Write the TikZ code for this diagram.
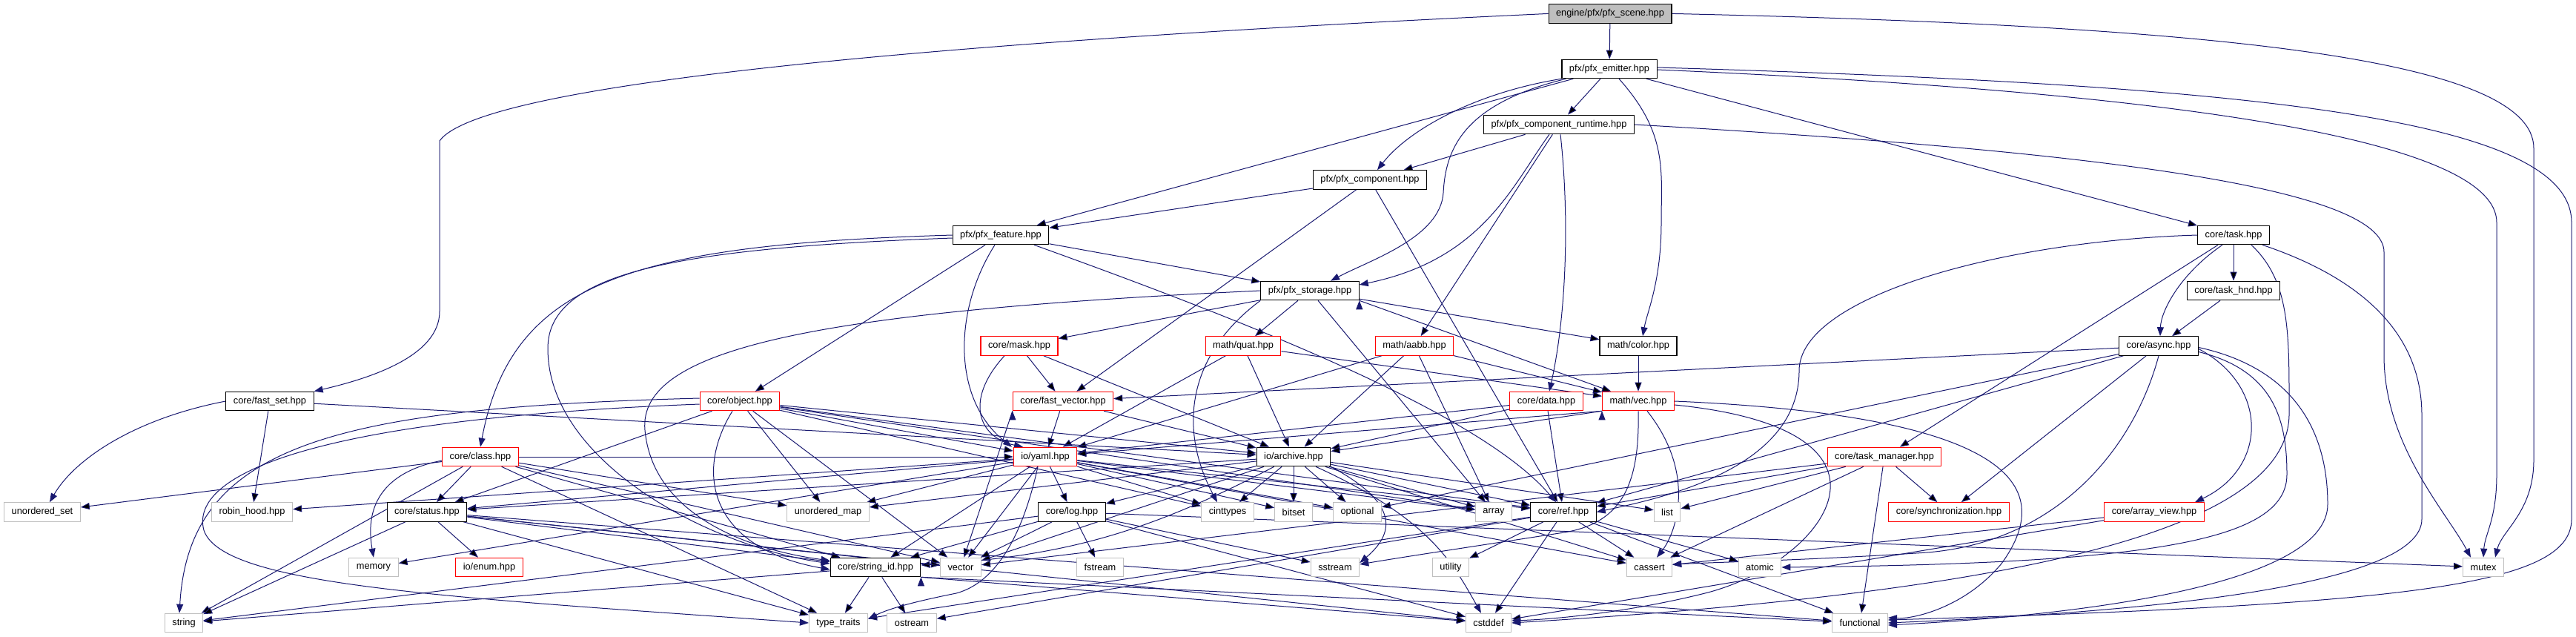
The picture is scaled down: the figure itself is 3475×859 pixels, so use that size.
\documentclass[tikz,border=0pt]{standalone}
\usepackage{fontspec}
\setmainfont{Liberation Sans}
\usetikzlibrary{arrows.meta, backgrounds}
\definecolor{incblue}{HTML}{191970}
\definecolor{sysgray}{HTML}{BFBFBF}
\tikzset{
  hdr/.style    ={draw=black, fill=white, line width=1.1pt, minimum height=25.5pt,
                  inner xsep=10pt, inner ysep=0pt, font=\fontsize{12.8}{14}\selectfont},
  hdrred/.style ={hdr, draw=red},
  sys/.style    ={hdr, draw=sysgray},
  root/.style   ={hdr, fill=sysgray},
  inc/.style    ={draw=incblue, line width=1pt, -{Triangle[length=12pt,width=9pt]}},
}
\begin{document}
\begin{tikzpicture}[x=1pt, y=-1pt]
  \useasboundingbox (0,0) rectangle (3475,859);
  % project headers
  \node[root]   (scene)   at (2172,18.4)  {engine/pfx/pfx\_scene.hpp};
  \node[hdr]    (emitter) at (2171,93)    {pfx/pfx\_emitter.hpp};
  \node[hdr]    (runtime) at (2103,168)   {pfx/pfx\_component\_runtime.hpp};
  \node[hdr]    (comp)    at (1848,242.5) {pfx/pfx\_component.hpp};
  \node[hdr]    (feature) at (1350,317)   {pfx/pfx\_feature.hpp};
  \node[hdr]    (task)    at (3013,317)   {core/task.hpp};
  \node[hdr]    (storage) at (1767,392)   {pfx/pfx\_storage.hpp};
  \node[hdr]    (taskhnd) at (3013,392)   {core/task\_hnd.hpp};
  \node[hdrred] (mask)    at (1375,466.5) {core/mask.hpp};
  \node[hdrred] (quat)    at (1677,466.5) {math/quat.hpp};
  \node[hdrred] (aabb)    at (1908,466.5) {math/aabb.hpp};
  \node[hdr]    (color)   at (2210,466.5) {math/color.hpp};
  \node[hdr]    (async)   at (2912,466.5) {core/async.hpp};
  \node[hdr]    (fastset) at (364,541)    {core/fast\_set.hpp};
  \node[hdrred] (object)  at (998,541)    {core/object.hpp};
  \node[hdrred] (fastvec) at (1434,541)   {core/fast\_vector.hpp};
  \node[hdrred] (data)    at (2086,541)   {core/data.hpp};
  \node[hdrred] (vec)     at (2210,541)   {math/vec.hpp};
  \node[hdrred] (class)   at (648,616)    {core/class.hpp};
  \node[hdrred] (yaml)    at (1410,616)   {io/yaml.hpp};
  \node[hdr]    (archive) at (1745,616)   {io/archive.hpp};
  \node[hdrred] (taskmgr) at (2542,616)   {core/task\_manager.hpp};
  \node[hdr]    (status)  at (576,690.5)  {core/status.hpp};
  \node[hdr]    (log)     at (1446,690.5) {core/log.hpp};
  \node[hdr]    (ref)     at (2109,690.5) {core/ref.hpp};
  \node[hdrred] (sync)    at (2629,690.5) {core/synchronization.hpp};
  \node[hdrred] (arrview) at (2906,690.5) {core/array\_view.hpp};
  \node[hdrred] (enum)    at (660,765)    {io/enum.hpp};
  \node[hdr]    (strid)   at (1181,765)   {core/string\_id.hpp};
  % system headers
  \node[sys] (uset)       at (57,690.5)   {unordered\_set};
  \node[sys] (robin)      at (340,690.5)  {robin\_hood.hpp};
  \node[sys] (umap)       at (1117,690.5) {unordered\_map};
  \node[sys] (cinttypes)  at (1656,690.5) {cinttypes};
  \node[sys] (bitset)     at (1745,690.5) {bitset};
  \node[sys] (optional)   at (1831,690.5) {optional};
  \node[sys] (array)      at (2015,690.5) {array};
  \node[sys] (list)       at (2249,690.5) {list};
  \node[sys] (memory)     at (504,765)    {memory};
  \node[sys] (vector)     at (1296,765)   {vector};
  \node[sys] (fstream)    at (1484,765)   {fstream};
  \node[sys] (sstream)    at (1801,765)   {sstream};
  \node[sys] (utility)    at (1957,765)   {utility};
  \node[sys] (cassert)    at (2225,765)   {cassert};
  \node[sys] (atomic)     at (2374,765)   {atomic};
  \node[sys] (mutex)      at (3350,765)   {mutex};
  \node[sys] (string)     at (248,840)    {string};
  \node[sys] (ttraits)    at (1131,840)   {type\_traits};
  \node[sys] (ostream)    at (1230,840)   {ostream};
  \node[sys] (cstddef)    at (2008,840)   {cstddef};
  \node[sys] (functional) at (2509,840)   {functional};

  \begin{scope}[on background layer]
    \fill[white] (0,0) rectangle (3475,859);
    % straight includes
    \path[inc] (scene) edge (emitter);
    \path[inc] (emitter) edge (runtime) edge (feature) edge (task);
    \path[inc] (runtime) edge (comp) edge (aabb);
    \path[inc] (comp) edge (feature) edge (fastvec) edge (ref);
    \path[inc] (feature) edge (storage) edge (object);
    \path[inc] (task) edge (taskhnd) edge (taskmgr);
    \path[inc] (taskhnd) edge (async);
    \path[inc] (storage) edge (mask) edge (quat) edge (color) edge (array)
               (storage.south east) edge (vec);
    \path[inc] (mask) edge (fastvec) edge (archive);
    \path[inc] (quat) edge (vec) edge (yaml) edge (archive);
    \path[inc] (aabb) edge (vec) edge (archive) edge (array) edge (yaml);
    \path[inc] (color) edge (vec);
    \path[inc] (async) edge (fastvec) edge (optional) edge (ref) edge (sync);
    \path[inc] (fastset) edge (robin) edge (archive);
    \path[inc] (object) edge (umap) edge (status) edge (vector) edge (yaml)
               edge (archive) edge (ref) edge (cinttypes) edge (array);
    \path[inc] (fastvec) edge (yaml) edge (archive) (fastvec.south west) edge (vector);
    \path[inc] (data) edge (yaml) edge (archive) edge (ref);
    \path[inc] (vec.south west) edge (yaml) edge (archive);
    \path[inc] (class) edge (status) edge (uset) edge (umap) edge (strid)
               edge (string) edge (vector) edge (ttraits) edge (yaml);
    \path[inc] (yaml) edge (log) edge (strid) edge (vector) edge (status)
               edge (umap) edge (robin) edge (cinttypes) edge (bitset)
               edge (optional) edge (array) edge (ref) edge (cassert) edge (memory);
    \path[inc] (archive) edge (cinttypes) edge (bitset) edge (optional) edge (array)
               edge (ref) edge (status) edge (umap) edge (log) edge (vector)
               edge (cassert) edge (list) edge[bend left=12] (strid);
    \path[inc] (taskmgr) edge (sync) edge (functional) edge (list) edge (ref)
               edge (vector) edge (cassert);
    \path[inc] (arrview) edge (cassert) edge (cstddef);
    \path[inc] (status) edge (enum) edge (string) edge (strid) edge (ttraits)
               edge (vector) edge (cstddef) edge (functional);
    \path[inc] (log) edge (vector) edge (fstream) edge (sstream) edge (string)
               edge (cstddef) edge (strid) edge (mutex);
    \path[inc] (strid) edge (ttraits) edge (ostream) edge (string)
               (strid.south east) edge (functional) edge (cstddef);
    \path[inc] (ref) edge (cassert) edge (utility) edge (atomic) edge (ttraits)
               edge (functional) edge (cstddef) edge (ostream);
    % routed includes
    \draw[inc] (scene.west) .. controls (1300,55) and (650,110) .. (593,190)
               -- (593,420) .. controls (593,480) and (500,510) .. (fastset.north east);
    \draw[inc] (scene.east) .. controls (3000,35) and (3418,80) .. (3418,200)
               -- (3418,620) .. controls (3418,690) and (3375,715) .. ([xshift=16pt]mutex.north);
    \draw[inc] ([yshift=2pt]emitter.east) .. controls (3050,115) and (3469,160) .. (3469,300)
               -- (3469,700) .. controls (3469,790) and (3250,815) .. ([yshift=4pt]functional.east);
    \draw[inc] ([yshift=-1pt]emitter.east) .. controls (2950,125) and (3368,190) .. (3368,300)
               -- (3368,640) .. controls (3368,700) and (3352,720) .. (mutex.north);
    \draw[inc] (runtime.east) .. controls (2850,205) and (3216,255) .. (3216,340)
               -- (3216,480) .. controls (3216,600) and (3300,690) .. ([xshift=-17pt]mutex.north);
    \draw[inc] (emitter.south west) .. controls (1990,125) and (1900,175) .. ([xshift=10pt]comp.north);
    \draw[inc] ([xshift=6pt]emitter.south west) .. controls (1975,140) and (1950,200) .. (1947,260)
               .. controls (1943,320) and (1850,350) .. ([xshift=28pt]storage.north);
    \draw[inc] ([xshift=13pt]emitter.south) .. controls (2250,180) and (2241,230) .. (2241,300)
               .. controls (2241,380) and (2222,420) .. ([xshift=6pt]color.north);
    \draw[inc] ([xshift=-13pt]runtime.south) .. controls (2040,250) and (2000,350) .. ([yshift=8pt]storage.east);
    \draw[inc] ([xshift=2pt]runtime.south) .. controls (2118,300) and (2112,430) .. ([xshift=4pt]data.north);
    \draw[inc] (feature.west) .. controls (850,330) and (690,380) .. (class.north);
    \draw[inc] ([yshift=-4pt]feature.west) .. controls (900,335) and (739,370) .. (739,470)
               .. controls (739,620) and (950,735) .. ([yshift=5pt]strid.west);
    \draw[inc] ([xshift=-8pt]feature.south) .. controls (1285,420) and (1285,540) .. ([xshift=-45pt]yaml.north);
    \draw[inc] ([xshift=45pt]feature.south) .. controls (1700,440) and (2000,560) .. ([xshift=-10pt]ref.north);
    \draw[inc] (storage.west) .. controls (1100,420) and (860,470) .. (870,580)
               .. controls (880,690) and (1000,740) .. ([yshift=9pt]strid.west);
    \draw[inc] (storage.south west) .. controls (1600,480) and (1590,580) .. ([xshift=-14pt]cinttypes.north);
    \draw[inc] ([xshift=-20pt]mask.south) .. controls (1300,540) and (1320,590) .. ([xshift=-30pt]yaml.north);
    \draw[inc] ([xshift=-15pt]task.south) .. controls (2940,370) and (2915,420) .. ([xshift=2pt]async.north);
    \draw[inc] (task.west) .. controls (2700,325) and (2427,400) .. (2427,500)
               .. controls (2427,630) and (2250,670) .. (ref.east);
    \draw[inc] ([xshift=-10pt]task.south east) .. controls (3200,380) and (3267,460) .. (3267,560)
               -- (3267,700) .. controls (3267,790) and (2900,825) .. (functional.east);
    \draw[inc] ([xshift=24pt]task.south) .. controls (3090,380) and (3088,450) .. (3088,560)
               .. controls (3085,720) and (2700,800) .. (cstddef.east);
    \draw[inc] ([yshift=-4pt]async.east) .. controls (3060,520) and (3060,630) .. ([xshift=55pt]arrview.north);
    \draw[inc] ([yshift=-8pt]async.east) .. controls (3070,500) and (3085,570) .. (3085,640)
               .. controls (3085,730) and (2900,760) .. (atomic.east);
    \draw[inc] ([yshift=-2pt]async.east) .. controls (3110,500) and (3140,600) .. (3140,680)
               .. controls (3140,790) and (2800,830) .. ([yshift=-3pt]functional.east);
    \draw[inc] (async.south) .. controls (2880,600) and (2780,730) .. (2600,745)
               .. controls (2450,755) and (2320,758) .. ([yshift=4pt]cassert.east);
    \draw[inc] (vec.south) .. controls (2212,650) and (2190,705) .. (2110,718)
               .. controls (2000,735) and (1900,750) .. ([yshift=4pt]sstream.east);
    \draw[inc] ([xshift=12pt]vec.south) .. controls (2290,640) and (2260,720) .. ([xshift=10pt]cassert.north);
    \draw[inc] (vec.east) .. controls (2700,560) and (2780,650) .. (2700,760)
               .. controls (2650,820) and (2580,835) .. ([yshift=7pt]functional.east);
    \draw[inc] ([yshift=-5pt]vec.east) .. controls (2600,580) and (2460,760) .. (2300,800)
               .. controls (2200,825) and (2100,835) .. ([yshift=3pt]cstddef.east);
    \draw[inc] ([yshift=-4pt]object.west) .. controls (420,565) and (255,640) .. (275,715)
               .. controls (300,790) and (600,805) .. (ttraits.west);
    \draw[inc] ([yshift=4pt]object.west) .. controls (450,550) and (255,600) .. ([xshift=-6pt]string.north);
    \draw[inc] ([xshift=-10pt]object.south) .. controls (935,640) and (960,740) .. ([yshift=-3pt]strid.west);
    \draw[inc] ([yshift=-5pt]class.west) .. controls (500,640) and (495,700) .. (memory.north);
    \draw[inc] (fastset.west) .. controls (180,565) and (100,620) .. ([xshift=10pt]uset.north);
    \draw[inc] ([xshift=-10pt]yaml.south) .. controls (1380,720) and (1345,785) .. (1290,800)
               .. controls (1240,810) and (1200,820) .. ([yshift=5pt]ttraits.east);
    \draw[inc] (archive.south east) .. controls (1890,680) and (1880,720) .. ([yshift=6pt]sstream.east);
    \draw[inc] ([xshift=30pt]archive.south) .. controls (1930,700) and (1960,760) .. ([xshift=-10pt]cstddef.north);
  \end{scope}
\end{tikzpicture}
\end{document}
